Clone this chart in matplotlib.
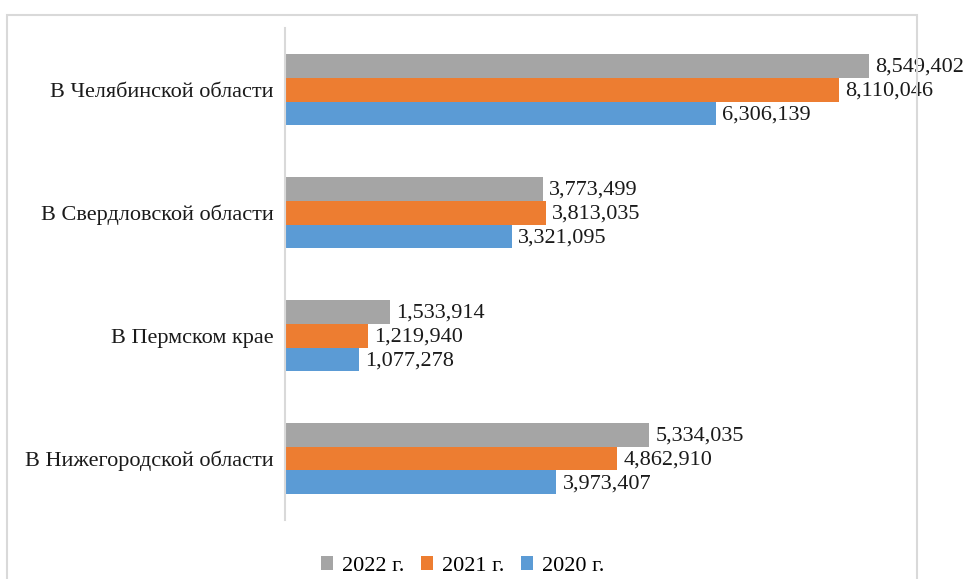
import matplotlib.pyplot as plt
import matplotlib.patches as mpatches
import numpy as np

# ==============================
# DATOS
# ==============================

regiones = [
    "В Нижегородской области",
    "В Пермском крае",
    "В Свердловской области",
    "В Челябинской области",
]

valores_2020 = [3973407, 1077278, 3321095, 6306139]
valores_2021 = [4862910, 1219940, 3813035, 8110046]
valores_2022 = [5334035, 1533914, 3773499, 8549402]

etiquetas = ["2022 г.", "2021 г.", "2020 г."]
colores = ["#A5A5A5", "#ED7D31", "#5B9BD5"]

plt.rcParams["font.family"] = ["Liberation Serif", "DejaVu Serif"]

# ==============================
# GRAFICO
# ==============================

fig = plt.figure(figsize=(9.68, 5.79), dpi=100)
ax = fig.add_axes([0.2944, 0.1019, 0.6353, 0.8497])

y = np.arange(len(regiones))
h = 0.195

series = [
    (valores_2022, h, colores[0], etiquetas[0]),
    (valores_2021, 0, colores[1], etiquetas[1]),
    (valores_2020, -h, colores[2], etiquetas[2]),
]

for valores, desplaz, color, etiqueta in series:
    barras = ax.barh(y + desplaz, valores, height=h, color=color, label=etiqueta)
    for b, v in zip(barras, valores):
        ax.annotate(f"{v:,}", xy=(b.get_width(), b.get_y() + b.get_height() / 2),
                    xytext=(4.5, -1), textcoords="offset points",
                    va="center", ha="left", fontsize=16, color="#1a1a1a")

ax.set_xlim(0, 9000000)
ax.set_ylim(-0.5, len(regiones) - 0.5)
ax.set_yticks(y)
ax.set_yticklabels(regiones, fontsize=16, color="#1a1a1a")
ax.tick_params(axis="y", length=0, pad=8)
ax.set_xticks([])

for lado in ["top", "right", "bottom"]:
    ax.spines[lado].set_visible(False)
ax.spines["left"].set_color("#D9D9D9")
ax.spines["left"].set_linewidth(1.5)

# borde del area del grafico
borde = mpatches.Rectangle((7 / 968, -0.05), 910 / 968, 1 - 15 / 579 + 0.05,
                           transform=fig.transFigure, fill=False,
                           edgecolor="#D9D9D9", linewidth=1.5, clip_on=False)
fig.patches.append(borde)

ax.legend(loc="center", bbox_to_anchor=(0.478, 0.022), bbox_transform=fig.transFigure,
          ncol=3, frameon=False, fontsize=16, handlelength=0.55, handleheight=0.55,
          handletextpad=0.4, columnspacing=0.75, borderaxespad=0, borderpad=0)

plt.savefig("out.png", dpi=100)
plt.close()
